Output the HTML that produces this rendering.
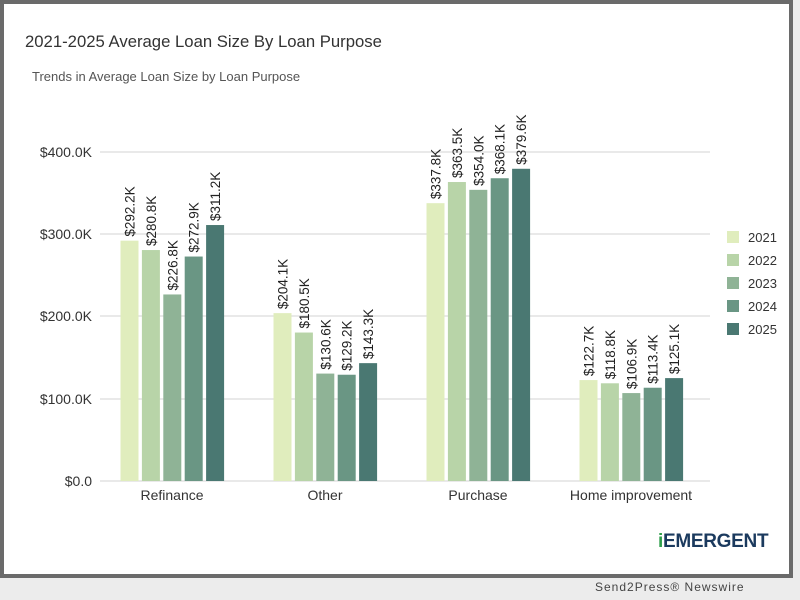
<!DOCTYPE html>
<html><head><meta charset="utf-8"><style>
body{margin:0;width:800px;height:600px;overflow:hidden;background:#e8e8e8;font-family:"Liberation Sans",sans-serif}
</style></head><body>
<svg width="800" height="600" xmlns="http://www.w3.org/2000/svg" style="position:absolute;left:0;top:0">
<rect x="0" y="0" width="800" height="600" fill="#ececec"/>
<rect x="2" y="2" width="789" height="574" fill="#fff" stroke="#6a6a6a" stroke-width="4"/>
<text x="25" y="47" font-size="16.7" fill="#333">2021-2025 Average Loan Size By Loan Purpose</text>
<text x="32" y="81" font-size="13" fill="#555">Trends in Average Loan Size by Loan Purpose</text>
<g stroke="#e2e2e2" stroke-width="1.5">
<line x1="100" x2="710" y1="152" y2="152"/><line x1="100" x2="710" y1="234" y2="234"/>
<line x1="100" x2="710" y1="316" y2="316"/><line x1="100" x2="710" y1="399" y2="399"/>
<line x1="100" x2="710" y1="481" y2="481"/></g>
<g font-size="14" fill="#333" text-anchor="end">
<text x="92" y="157">$400.0K</text><text x="92" y="239">$300.0K</text><text x="92" y="321">$200.0K</text><text x="92" y="404">$100.0K</text><text x="92" y="486">$0.0</text></g>
<g font-size="14" fill="#333" text-anchor="middle">
<text x="172" y="500">Refinance</text><text x="325" y="500">Other</text><text x="478" y="500">Purchase</text><text x="631" y="500">Home improvement</text></g>
<g id="bars"></g>
<g font-size="13" fill="#333">
<rect x="727" y="231" width="12" height="12" fill="#e0edbd"/><text x="748" y="242">2021</text>
<rect x="727" y="254" width="12" height="12" fill="#b8d4a8"/><text x="748" y="265">2022</text>
<rect x="727" y="277" width="12" height="12" fill="#8fb396"/><text x="748" y="288">2023</text>
<rect x="727" y="300" width="12" height="12" fill="#6a9684"/><text x="748" y="311">2024</text>
<rect x="727" y="323" width="12" height="12" fill="#4a7872"/><text x="748" y="334">2025</text></g>
<text x="658" y="547" font-size="19" font-weight="bold" fill="#1b3a5e" letter-spacing="-0.3"><tspan fill="#2e9e4a">i</tspan>EMERGENT</text>
<text x="595" y="591" font-size="12" fill="#444" letter-spacing="1">Send2Press® Newswire</text>
</svg>
<script>
var d=[[292.2,280.8,226.8,272.9,311.2],[204.1,180.5,130.6,129.2,143.3],[337.8,363.5,354.0,368.1,379.6],[122.7,118.8,106.9,113.4,125.1]];
var c=["#e0edbd","#b8d4a8","#8fb396","#6a9684","#4a7872"];
var g=document.getElementById("bars"),s="";
for(var i=0;i<4;i++)for(var j=0;j<5;j++){var x=120.5+i*153+j*21.4,v=d[i][j],h=v*0.8225,y=481-h;
s+='<rect x="'+x+'" y="'+y+'" width="18" height="'+h+'" fill="'+c[j]+'"/>';
var tx=x+14,ty=y-4;
s+='<text transform="translate('+tx+','+ty+') rotate(-90)" font-size="13.5" fill="#222">$'+v.toFixed(1)+'K</text>';}
g.innerHTML=s;
</script>
</body></html>
